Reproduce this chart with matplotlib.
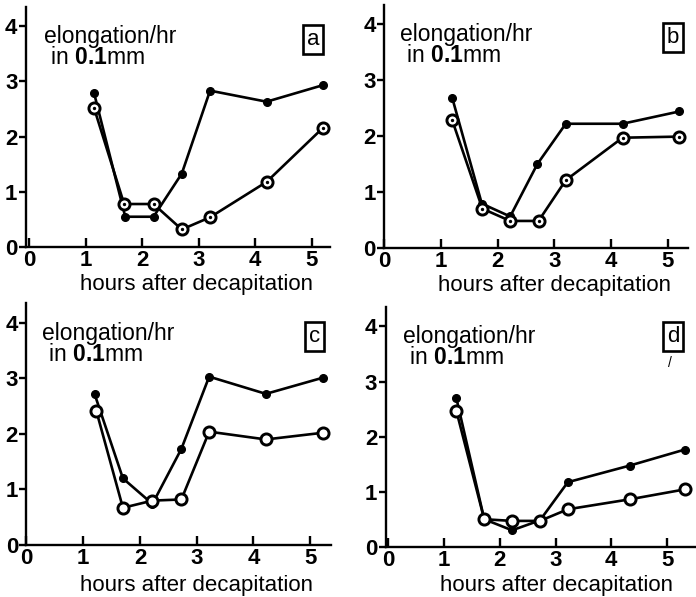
import matplotlib
matplotlib.use("Agg")
import matplotlib.pyplot as plt

plt.rcParams['font.family'] = ['Liberation Sans', 'DejaVu Sans']
plt.rcParams['mathtext.fontset'] = 'custom'
plt.rcParams['mathtext.rm'] = 'Liberation Sans'
plt.rcParams['mathtext.bf'] = 'Liberation Sans:bold'

# ---- data ----
panel_labels = ["a", "b", "c", "d"]

a_filled_x = [1.15, 1.7, 2.2, 2.7, 3.2, 4.2, 5.2]
a_filled_y = [2.78, 0.55, 0.55, 1.33, 2.83, 2.63, 2.93]
a_open_x = [1.15, 1.68, 2.2, 2.7, 3.2, 4.2, 5.2]
a_open_y = [2.51, 0.78, 0.78, 0.32, 0.54, 1.18, 2.16]

b_filled_x = [1.2, 1.72, 2.22, 2.7, 3.2, 4.2, 5.2]
b_filled_y = [2.68, 0.79, 0.56, 1.50, 2.22, 2.22, 2.44]
b_open_x = [1.2, 1.73, 2.22, 2.72, 3.2, 4.2, 5.2]
b_open_y = [2.28, 0.70, 0.48, 0.48, 1.21, 1.97, 1.99]

c_filled_x = [1.2, 1.7, 2.22, 2.73, 3.22, 4.22, 5.22]
c_filled_y = [2.72, 1.20, 0.74, 1.73, 3.03, 2.72, 3.01]
c_open_x = [1.23, 1.7, 2.22, 2.73, 3.22, 4.22, 5.22]
c_open_y = [2.42, 0.67, 0.80, 0.82, 2.04, 1.90, 2.02]

d_filled_x = [1.22, 1.72, 2.22, 2.72, 3.22, 4.33, 5.32]
d_filled_y = [2.70, 0.51, 0.31, 0.49, 1.18, 1.48, 1.77]
d_open_x = [1.22, 1.72, 2.22, 2.72, 3.22, 4.33, 5.32]
d_open_y = [2.47, 0.51, 0.48, 0.48, 0.69, 0.87, 1.05]

x_ticks = [0, 1, 2, 3, 4, 5]
y_ticks = [0, 1, 2, 3, 4]
x_label = "hours after decapitation"
y_text1 = "elongation/hr"
y_text2 = r" in $\mathbf{0.1}$mm"

panels = [
    (a_filled_x, a_filled_y, a_open_x, a_open_y),
    (b_filled_x, b_filled_y, b_open_x, b_open_y),
    (c_filled_x, c_filled_y, c_open_x, c_open_y),
    (d_filled_x, d_filled_y, d_open_x, d_open_y),
]

# layout: [left, bottom, width, height], xlim, label box position
positions = [
    [0.037, 0.586, 0.437, 0.403],
    [0.552, 0.585, 0.437, 0.407],
    [0.038, 0.087, 0.437, 0.405],
    [0.554, 0.083, 0.446, 0.403],
]
xlims = [(-0.06, 5.32), (0.0, 5.36), (0.0, 5.36), (-0.05, 5.52)]
box_pos = [(5.02, 3.76), (5.09, 3.77), (5.08, 3.75), (5.11, 3.82)]
xlabel_pos = [(0.56, -0.18), (0.56, -0.18), (0.56, -0.19), (0.55, -0.18)]
dotted = [True, True, False, False]

fig = plt.figure(figsize=(6.96, 5.97), dpi=100)

for i, (fx, fy, ox, oy) in enumerate(panels):
    ax = fig.add_axes(positions[i])
    ax.plot(fx, fy, color='black', lw=1.9, marker='o', ms=5.5,
            mfc='black', mec='black', zorder=3)
    ax.plot(ox, oy, color='black', lw=1.9, marker='o', ms=8,
            mfc='white', mec='black', mew=2.1, zorder=4)
    if dotted[i]:
        ax.plot(ox, oy, ls='none', marker='o', ms=1.4, color='black', zorder=5)
    ax.set_xlim(*xlims[i])
    ax.set_ylim(0, 4.35)
    ax.set_xticks(x_ticks)
    ax.set_yticks(y_ticks)
    ax.set_xticklabels([str(t) for t in x_ticks], fontsize=16, fontweight='bold')
    ax.set_yticklabels([str(t) for t in y_ticks], fontsize=16, fontweight='bold')
    for s in ['top', 'right']:
        ax.spines[s].set_visible(False)
    for s in ['left', 'bottom']:
        ax.spines[s].set_linewidth(1.7)
    ax.tick_params(axis='x', direction='in', length=6.5, width=1.7, pad=2)
    ax.tick_params(axis='y', direction='out', length=5, width=1.7, pad=1)
    lx, ly = xlabel_pos[i]
    ax.text(lx, ly, x_label, fontsize=16, ha='center', va='baseline',
            transform=ax.transAxes, clip_on=False)
    ax.text(0.27, 4.02, y_text1, fontsize=16.5, va='top', ha='left')
    ax.text(0.27, 3.64, y_text2, fontsize=16.5, va='top', ha='left')
    bx, by = box_pos[i]
    ax.text(bx, by, panel_labels[i], fontsize=16, ha='center', va='center',
            bbox=dict(boxstyle='square,pad=0.18', fc='white', ec='black', lw=1.9))
    if i == 3:
        ax.text(5.05, 3.33, "/", fontsize=10, ha='center', va='center')

fig.savefig("out.png", dpi=100)
